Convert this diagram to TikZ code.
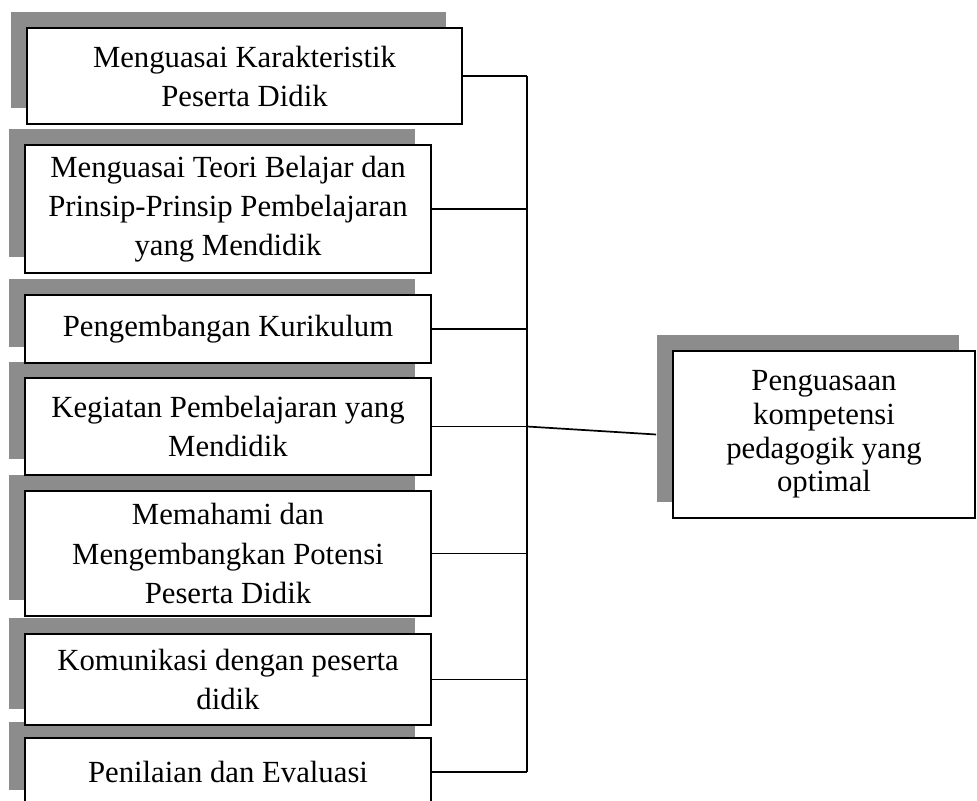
\documentclass[tikz,border=0pt]{standalone}
\usepackage{fontspec}
\setmainfont{Liberation Serif}
\usetikzlibrary{positioning,shadows}

\begin{document}
\begin{tikzpicture}[
x=0.41pt,
y=-0.41pt,
item/.style={
  draw,
  line width=0.8pt,
  fill=white,
  align=center,
  inner sep=0pt,
  font=\fontsize{12.6}{16}\selectfont,
  general shadow={fill=black!45, shadow xshift=-6.5pt, shadow yshift=6.5pt}
  },
wire/.style={
  line width=0.7pt
  }
]
\useasboundingbox (0,0) rectangle (977,800);

% bottom box first, so each box covers the shadow of the one below
\node[item, minimum width=166.5pt, minimum height=27.9pt] (k7) at (228,772)
  {Penilaian dan Evaluasi};
\node[item, minimum width=166.5pt, minimum height=37.3pt] (k6) at (228,679.5)
  {Komunikasi dengan peserta\\didik};
\node[item, minimum width=166.5pt, minimum height=51.3pt] (k5) at (228,553.5)
  {Memahami dan\\Mengembangkan Potensi\\Peserta Didik};
\node[item, minimum width=166.5pt, minimum height=39.8pt] (k4) at (228,426.5)
  {Kegiatan Pembelajaran yang\\Mendidik};
\node[item, minimum width=166.5pt, minimum height=27.9pt] (k3) at (228,329)
  {Pengembangan Kurikulum};
\node[item, minimum width=166.5pt, minimum height=52.5pt] (k2) at (228,209)
  {Menguasai Teori Belajar dan\\Prinsip-Prinsip Pembelajaran\\yang Mendidik};
\node[item, minimum width=178.4pt, minimum height=39.4pt] (k1) at (244.5,76)
  {Menguasai Karakteristik\\Peserta Didik};

\node[item, font=\fontsize{12.6}{13.8}\selectfont,
  minimum width=123.8pt, minimum height=68.5pt] (goal) at (824,434.5)
  {Penguasaan\\kompetensi\\pedagogik yang\\optimal};

\coordinate (spine) at (527,0);
\foreach \k in {1,...,7}
  \draw[wire] (k\k.east) -- (k\k.east -| spine);
\draw[wire] (k1.east -| spine) -- (k7.east -| spine);
\draw[wire] (k4.east -| spine) -- ([xshift=-6.5pt]goal.west);
\end{tikzpicture}
\end{document}
